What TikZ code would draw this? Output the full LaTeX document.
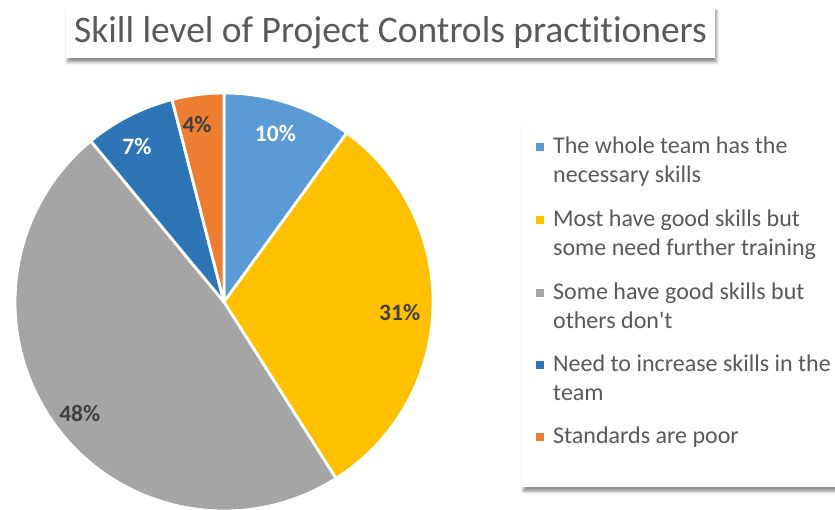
\documentclass[tikz,border=0pt]{standalone}
\usepackage{fontspec}
\setmainfont{Carlito}[Ligatures={TeX,NoCommon}]
\usetikzlibrary{positioning,shadows.blur}
\definecolor{skillA}{HTML}{5B9BD5}
\definecolor{skillB}{HTML}{FFC000}
\definecolor{skillC}{HTML}{A5A5A5}
\definecolor{skillD}{HTML}{2E75B6}
\definecolor{skillE}{HTML}{ED7D31}
\definecolor{inkgray}{HTML}{595959}
\definecolor{labgray}{HTML}{404040}
\tikzset{
  panel/.style={fill=white, blur shadow={shadow xshift=1.5pt, shadow yshift=-4pt, shadow blur radius=3pt, shadow opacity=45}},
  pct/.style={font=\fontsize{23.5}{23.5}\selectfont\bfseries, inner sep=0pt},
  key/.style={minimum size=8pt, inner sep=0pt},
  keytext/.style={text=inkgray, font=\fontsize{24}{29}\selectfont, align=left, anchor=base west, inner sep=0pt}
}
\begin{document}
\begin{tikzpicture}[x=1pt,y=1pt]
\useasboundingbox (0,0) rectangle (835,510);

\node[panel, minimum width=649pt, minimum height=51pt, text=inkgray, font=\fontsize{37.5}{37.5}\selectfont] (title) at (390.5,477.5) {Skill level of Project Controls practitioners};
\node[panel, minimum width=330pt, minimum height=364pt, anchor=north west] (legend) at (522,387) {};

\coordinate (c) at (224,208);
\foreach \a/\b/\col in {90/54/skillA, 54/-57.6/skillB, -57.6/-230.4/skillC, 129.6/104.4/skillD, 104.4/90/skillE}
{
    \filldraw[fill=\col, draw=white, line width=2.8pt, line join=round] (c) -- ++(\a:209) arc[start angle=\a, end angle=\b, radius=209] -- cycle;
}
\foreach \m/\r/\t/\col [count=\i] in {73/176/10\%/white, -3.3/176/31\%/labgray, 217.6/182/48\%/labgray, 119.3/178/7\%/white, 98.6/180/4\%/labgray}
{
    \node[pct, text=\col] (p\i) at ([shift={(\m:\r)}]c) {\t};
}

\foreach \y/\dy/\col/\txt [count=\i] in {327.5/35.5/skillA/{The whole team has the\\necessary skills}, 254.5/35.5/skillB/{Most have good skills but\\some need further training}, 181.5/35.5/skillC/{Some have good skills but\\others don\textquotesingle t}, 109.5/35.5/skillD/{Need to increase skills in the\\team}, 66.5/6.5/skillE/{Standards are poor}}
{
    \node[keytext] (t\i) at (553,\y) {\txt};
    \node[key, fill=\col] (key\i) at ([xshift=-13pt, yshift=\dy pt]t\i.base west) {};
}
\end{tikzpicture}
\end{document}
